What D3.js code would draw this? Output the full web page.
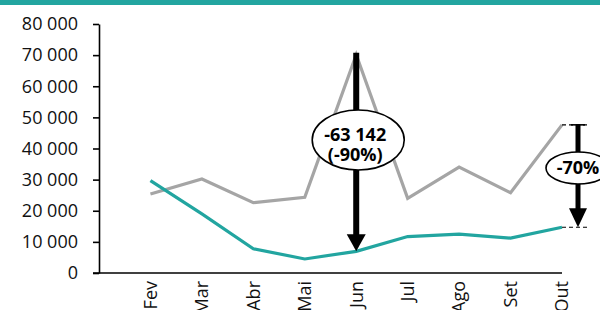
<!DOCTYPE html>
<html>
<head>
<meta charset="utf-8">
<script src="https://cdn.jsdelivr.net/npm/d3@7/dist/d3.min.js"></script>
<style>
  body { margin: 0; background: #fff; }
  svg { display: block; font-family: "Open Sans", sans-serif; }
</style>
</head>
<body>
<svg id="chart" width="600" height="310"></svg>
<script>
// data
var months = ['Fev', 'Mar', 'Abr', 'Mai', 'Jun', 'Jul', 'Ago', 'Set', 'Out'];
var grayValues = [25400, 30200, 22600, 24300, 70100, 24000, 34000, 25800, 47600];
var tealValues = [29700, 19000, 7800, 4500, 6958, 11700, 12500, 11200, 14700];
var yTicks = [0, 10000, 20000, 30000, 40000, 50000, 60000, 70000, 80000];
var bigDrop = { month: 'Jun', label1: '-63 142', label2: '(-90%)' };
var endDrop = { month: 'Out', label: '-70%' };

var TEAL = '#22a5a0', GRAY = '#a5a5a5';
var plotLeft = 99, plotRight = 562, plotTop = 24, plotBottom = 273;

var svg = d3.select('#chart');

// top band
svg.append('rect').attr('x', 0).attr('y', 0).attr('width', 600).attr('height', 5).attr('fill', TEAL);

var step = (plotRight - plotLeft) / months.length;
var x = d3.scalePoint().domain(months).range([plotLeft + step, plotRight]);
var y = d3.scaleLinear().domain([0, 80000]).range([plotBottom, plotTop]);

var fmt = function(d) { return d3.format(',')(d).replace(/,/g, ' '); };

var yAxis = svg.append('g')
  .attr('transform', 'translate(' + plotLeft + ',0)')
  .call(d3.axisLeft(y).tickValues(yTicks).tickFormat(fmt).tickSize(6).tickSizeOuter(0));
yAxis.selectAll('path, line').attr('stroke', '#000').attr('stroke-width', 1.6);
yAxis.selectAll('text').attr('font-size', 18).attr('fill', '#111').attr('x', -21)
  .attr('font-family', '"Open Sans", sans-serif');

// x axis line
svg.append('line')
  .attr('x1', plotLeft - 6).attr('x2', plotRight)
  .attr('y1', y(0)).attr('y2', y(0))
  .attr('stroke', '#000').attr('stroke-width', 1.6);

svg.selectAll('text.xlab').data(months).enter().append('text')
  .attr('class', 'xlab')
  .attr('transform', function(d) { return 'translate(' + x(d) + ',' + (y(0) + 8) + ') rotate(-90)'; })
  .attr('text-anchor', 'end').attr('dy', '0.35em')
  .attr('font-size', 18).attr('fill', '#111')
  .text(function(d) { return d; });

var line = d3.line().x(function(d, i) { return x(months[i]); }).y(function(d) { return y(d); });

svg.append('path').datum(grayValues).attr('d', line)
  .attr('fill', 'none').attr('stroke', GRAY).attr('stroke-width', 3.2).attr('stroke-linejoin', 'miter');
svg.append('path').datum(tealValues).attr('d', line)
  .attr('fill', 'none').attr('stroke', TEAL).attr('stroke-width', 3.2).attr('stroke-linejoin', 'miter');

function arrowHead(g, cx, tipY, w, h) {
  g.append('path')
    .attr('d', 'M' + (cx - w / 2) + ',' + (tipY - h) + 'L' + (cx + w / 2) + ',' + (tipY - h) + 'L' + cx + ',' + tipY + 'Z')
    .attr('fill', '#000');
}

// Jun annotation
var ann = svg.append('g');
var ji = months.indexOf(bigDrop.month);
var jx = x(bigDrop.month);
var jTop = y(grayValues[ji]) - 2, jTip = y(tealValues[ji]);
ann.append('line').attr('x1', jx).attr('x2', jx).attr('y1', jTop).attr('y2', jTip - 14)
  .attr('stroke', '#000').attr('stroke-width', 6);
arrowHead(ann, jx, jTip, 19, 17);
ann.append('ellipse').attr('cx', jx + 2).attr('cy', 140).attr('rx', 46).attr('ry', 30)
  .attr('fill', '#fff').attr('stroke', '#000').attr('stroke-width', 1.6);
ann.append('text').attr('x', jx - 1).attr('y', 141).attr('text-anchor', 'middle')
  .attr('font-size', 18).attr('font-weight', 'bold').text(bigDrop.label1);
ann.append('text').attr('x', jx - 1).attr('y', 161).attr('text-anchor', 'middle')
  .attr('font-size', 18).attr('font-weight', 'bold').text(bigDrop.label2);

// Out annotation
var oi = months.indexOf(endDrop.month);
var ox = x(endDrop.month) + 16;
var oTop = y(grayValues[oi]), oBot = y(tealValues[oi]);
[oTop, oBot].forEach(function(v) {
  ann.append('line').attr('x1', x(endDrop.month)).attr('x2', ox + 9).attr('y1', v).attr('y2', v)
    .attr('stroke', '#000').attr('stroke-width', 1.2).attr('stroke-dasharray', '4,3');
});
ann.append('line').attr('x1', ox - 7).attr('x2', ox + 7).attr('y1', oTop).attr('y2', oTop)
  .attr('stroke', '#000').attr('stroke-width', 1.6);
ann.append('line').attr('x1', ox).attr('x2', ox).attr('y1', oTop).attr('y2', oBot - 14)
  .attr('stroke', '#000').attr('stroke-width', 5);
arrowHead(ann, ox, oBot, 18, 19);
ann.append('ellipse').attr('cx', ox).attr('cy', 168).attr('rx', 32).attr('ry', 16)
  .attr('fill', '#fff').attr('stroke', '#000').attr('stroke-width', 1.6);
ann.append('text').attr('x', ox).attr('y', 174).attr('text-anchor', 'middle')
  .attr('font-size', 18).attr('font-weight', 'bold').text(endDrop.label);
</script>
</body>
</html>
